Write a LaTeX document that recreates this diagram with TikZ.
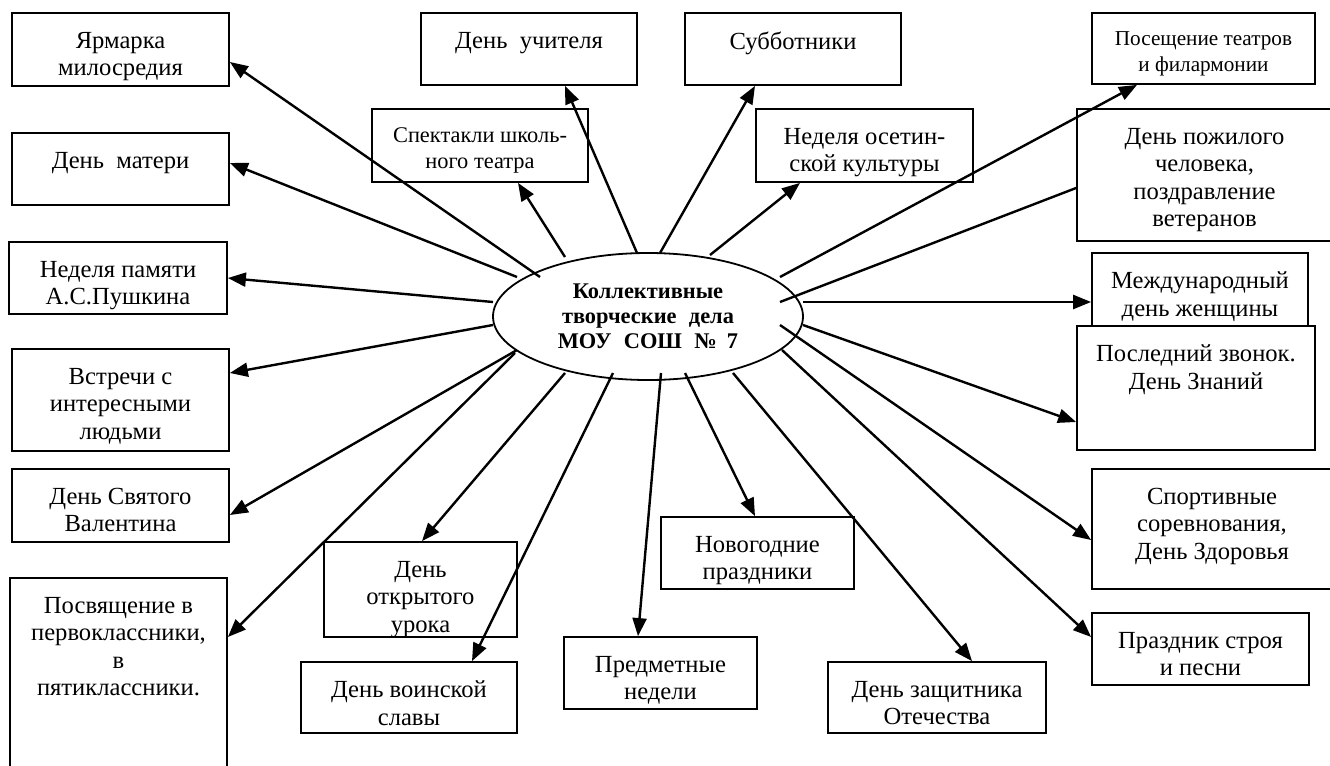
\documentclass[tikz,border=0pt]{standalone}
\usepackage{fontspec}
\setmainfont{Liberation Serif}
\usetikzlibrary{arrows.meta,fit,shapes.geometric}
\newcommand\fnA{\fontsize{12.3}{13.8}\selectfont}
\newcommand\fnB{\fontsize{10.6}{12.8}\selectfont}
\newcommand\fnC{\fontsize{11.2}{12.8}\selectfont}
% name, x1, y1, x2, y2, font, text
\newcommand\tbox[7]{%
  \node[box, fit={(#2,#3) (#4,#5)}] (#1) {};
  \begin{scope}
    \clip (#1.south west) rectangle (#1.north east);
    \node[txt, anchor=north, font={#6}] (#1t) at ([yshift=-9.7pt]#1.north) {#7};
  \end{scope}}
\begin{document}
\begin{tikzpicture}[x=0.5pt,y=-0.5pt,
  box/.style={draw, rectangle, line width=0.9pt, inner sep=0pt},
  txt/.style={align=center, inner sep=0pt},
  ell/.style={draw, ellipse, line width=0.9pt, inner sep=0pt, align=center,
    minimum width=155pt, minimum height=63.5pt,
    font=\bfseries\fontsize{11.2}{12.4}\selectfont},
  conn/.style={line width=1.2pt, -{Triangle[length=9pt,width=7pt]}},
  plainline/.style={line width=1.2pt}]
\useasboundingbox (0,0) rectangle (1330,766);
\clip (0,0) rectangle (1330,766);

% left column
\tbox{b1}{12}{13}{229}{86}{\fnA}{Ярмарка\\милосредия}
\tbox{b2}{12}{133}{229}{205}{\fnA}{День\ \ матери}
\tbox{b3}{9}{242}{227}{314}{\fnA}{Неделя памяти\\А.С.Пушкина}
\tbox{b4}{12}{349}{229}{451}{\fnA}{Встречи с\\интересными\\людьми}
\tbox{b5}{12}{469}{229}{542}{\fnA}{День Святого\\Валентина}
\tbox{b6}{10}{578}{227}{790}{\fnA}{Посвящение в\\первоклассники,\\в\\пятиклассники.}
% top
\tbox{b7}{372}{109}{588}{182}{\fnC}{Спектакли школь-\\ного театра}
\tbox{b8}{421}{13}{637}{85}{\fnA}{День\ \ учителя}
\tbox{b9}{685}{13}{901}{85}{\fnA}{Субботники}
\tbox{b10}{756}{109}{973}{182}{\fnA}{Неделя осетин-\\ской культуры}
% right column
\tbox{b11}{1092}{13}{1315}{84}{\fnB}{Посещение театров\\и филармонии}
\tbox{b12}{1077}{109}{1332}{241}{\fnA}{День пожилого\\человека,\\поздравление\\ветеранов}
\tbox{b13}{1092}{253}{1308}{326}{\fnA}{Международный\\день женщины}
\tbox{b14}{1077}{326}{1315}{450}{\fnA}{Последний звонок.\\День Знаний}
\tbox{b15}{1092}{469}{1332}{589}{\fnA}{Спортивные\\соревнования,\\День Здоровья}
\tbox{b16}{1092}{613}{1309}{685}{\fnA}{Праздник строя\\и песни}
% bottom
\tbox{b17}{828}{662}{1046}{733}{\fnA}{День защитника\\Отечества}
\tbox{b18}{564}{637}{757}{709}{\fnA}{Предметные\\недели}
\tbox{b19}{661}{517}{854}{589}{\fnA}{Новогодние\\праздники}
\tbox{b20}{324}{542}{517}{637}{\fnA}{День\\открытого\\урока}
\tbox{b21}{301}{662}{517}{733}{\fnA}{День воинской\\славы}

% centre
\node[ell] (c) at (648,316.5) {Коллективные\\творческие\hspace{0.55em}дела\\МОУ\hspace{0.55em}СОШ\hspace{0.55em}№\hspace{0.45em}7};

% start points near the ellipse
\coordinate (s1) at (540,277);
\coordinate (s2) at (517,277);
\coordinate (s3) at (565,257);
\coordinate (s4) at (637,253);
\coordinate (s5) at (660,253);
\coordinate (s6) at (710,255);
\coordinate (s7) at (780,277);
\coordinate (s8) at (780,302);
\coordinate (s9) at (803,302);
\coordinate (s10) at (803,325);
\coordinate (s11) at (780,325);
\coordinate (s12) at (782,350);
\coordinate (s13) at (733,373);
\coordinate (s14) at (685,373);
\coordinate (s15) at (661,373);
\coordinate (s16) at (613,373);
\coordinate (s17) at (565,373);
\coordinate (s18) at (515,353);
\coordinate (s19) at (517,350);
\coordinate (s20) at (493,325);
\coordinate (s21) at (493,302);

\draw[conn] (s1) -- (b1.east |- 0,62);
\draw[conn] (s2) -- (b2.east |- 0,163);
\draw[conn] (s3) -- (b7.south -| 518,0);
\draw[conn] (s4) -- (b8.south -| 565,0);
\draw[conn] (s5) -- (b9.south -| 755,0);
\draw[conn] (s6) -- (b10.south -| 800,0);
\draw[conn] (s7) -- (b11.south -| 1137,0);
\draw[plainline] (s8) -- (b12.west |- 0,188);
\draw[conn] (s9) -- (b13.west |- 0,302);
\draw[conn] (s10) -- (b14.west |- 0,422);
\draw[conn] (s11) -- (b15.west |- 0,540);
\draw[conn] (s12) -- (b16.west |- 0,637);
\draw[conn] (s13) -- (b17.north -| 972,0);
\draw[conn] (s14) -- (b19.north -| 755,0);
\draw[conn] (s15) -- (b18.north -| 638,0);
\draw[conn] (s16) -- (b21.north -| 472,0);
\draw[conn] (s17) -- (b20.north -| 422,0);
\draw[conn] (s18) -- (b6.east |- 0,637);
\draw[conn] (s19) -- (b5.east |- 0,515);
\draw[conn] (s20) -- (b4.east |- 0,373);
\draw[conn] (s21) -- (b3.east |- 0,278);
\end{tikzpicture}
\end{document}
